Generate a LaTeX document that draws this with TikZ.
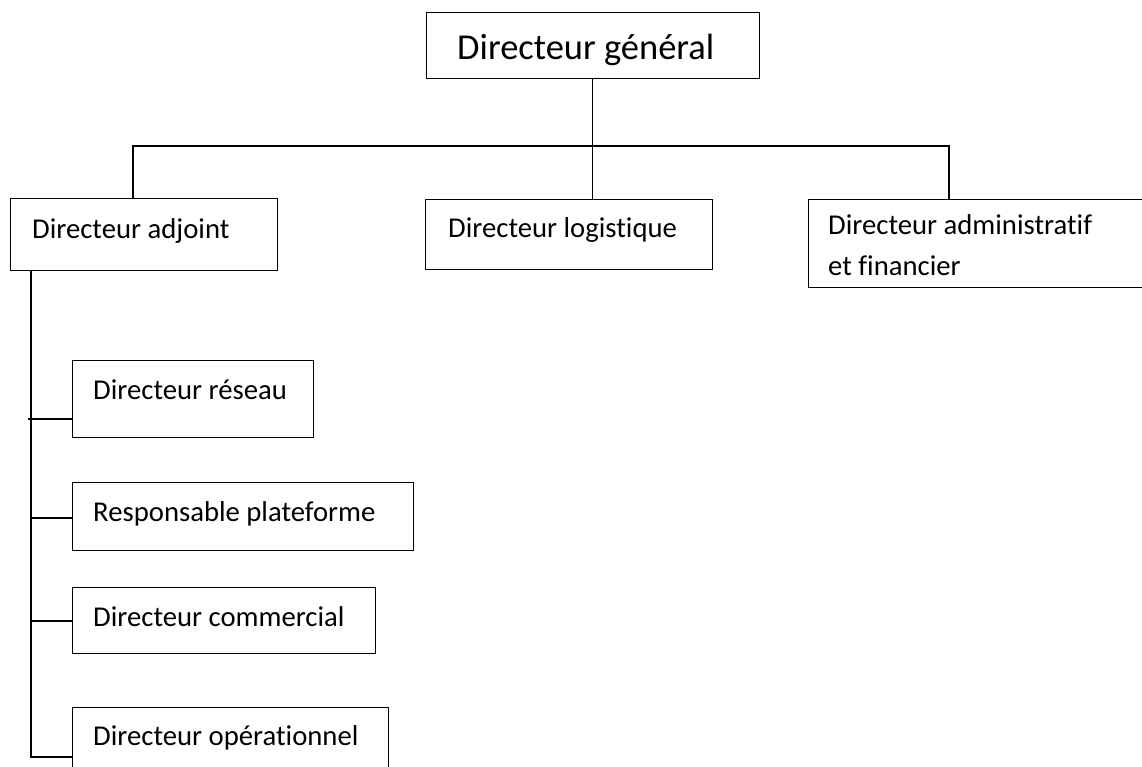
\documentclass[tikz,border=0pt]{standalone}
\usepackage{fontspec}
\setmainfont[Ligatures={NoCommon}]{Carlito}
\begin{document}
\begin{tikzpicture}[x=1pt,y=-1pt,
  box/.style={draw=black, line width=1.4pt, fill=white, anchor=north west, inner sep=0pt, rectangle},
  txt/.style={anchor=base west, inner sep=0pt, font=\fontsize{28.7}{34}\selectfont},
  ttl/.style={anchor=base west, inner sep=0pt, font=\fontsize{36.5}{44}\selectfont},
  con/.style={draw=black, line width=1.4pt}]
\clip (0,0) rectangle (1142,767);
\fill[white] (0,0) rectangle (1142,767);
% boxes
\node[box, minimum width=333pt, minimum height=66pt] (gen) at (425.5,12) {};
\node[box, minimum width=267pt, minimum height=72pt] (adj) at (10,198) {};
\node[box, minimum width=287pt, minimum height=70pt] (log) at (425,199) {};
\node[box, minimum width=400pt, minimum height=88pt] (adm) at (808,199) {};
\node[box, minimum width=241pt, minimum height=77pt] (res) at (72,360) {};
\node[box, minimum width=341pt, minimum height=68pt] (pla) at (72,482) {};
\node[box, minimum width=303pt, minimum height=66pt] (com) at (72,587) {};
\node[box, minimum width=316pt, minimum height=100pt] (ope) at (72,707) {};
% texts
\node[ttl] (tgen) at (457,60) {Directeur général};
\node[txt] (tadj) at (32,239) {Directeur adjoint};
\node[txt] (tlog) at (448,237) {Directeur logistique};
\node[txt] (tadm1) at (828,235) {Directeur administratif};
\node[txt] (tadm2) at (828,276) {et financier};
\node[txt] (tres) at (93,399) {Directeur réseau};
\node[txt] (tpla) at (93,521) {Responsable plateforme};
\node[txt] (tcom) at (93,626) {Directeur commercial};
\node[txt] (tope) at (93,745) {Directeur opérationnel};
% connector coordinates
\coordinate (busL) at (133,146);
\coordinate (busR) at (949,146);
\coordinate (trk) at (31,270);
\coordinate (tbot) at (31,757);
\coordinate (cres) at (28,419);
\coordinate (cpla) at (31,518);
\coordinate (ccom) at (31,621);
% connectors
\draw[con] (gen.south) -- (gen.south |- log.north);
\draw[con] (busL |- adj.north) -- (busL) -- (busR) -- (busR |- adm.north);
\draw[con] (trk |- adj.south) -- (tbot) -- (tbot -| ope.west);
\draw[con] (cres) -- (cres -| res.west);
\draw[con] (cpla) -- (cpla -| pla.west);
\draw[con] (ccom) -- (ccom -| com.west);
\end{tikzpicture}
\end{document}
